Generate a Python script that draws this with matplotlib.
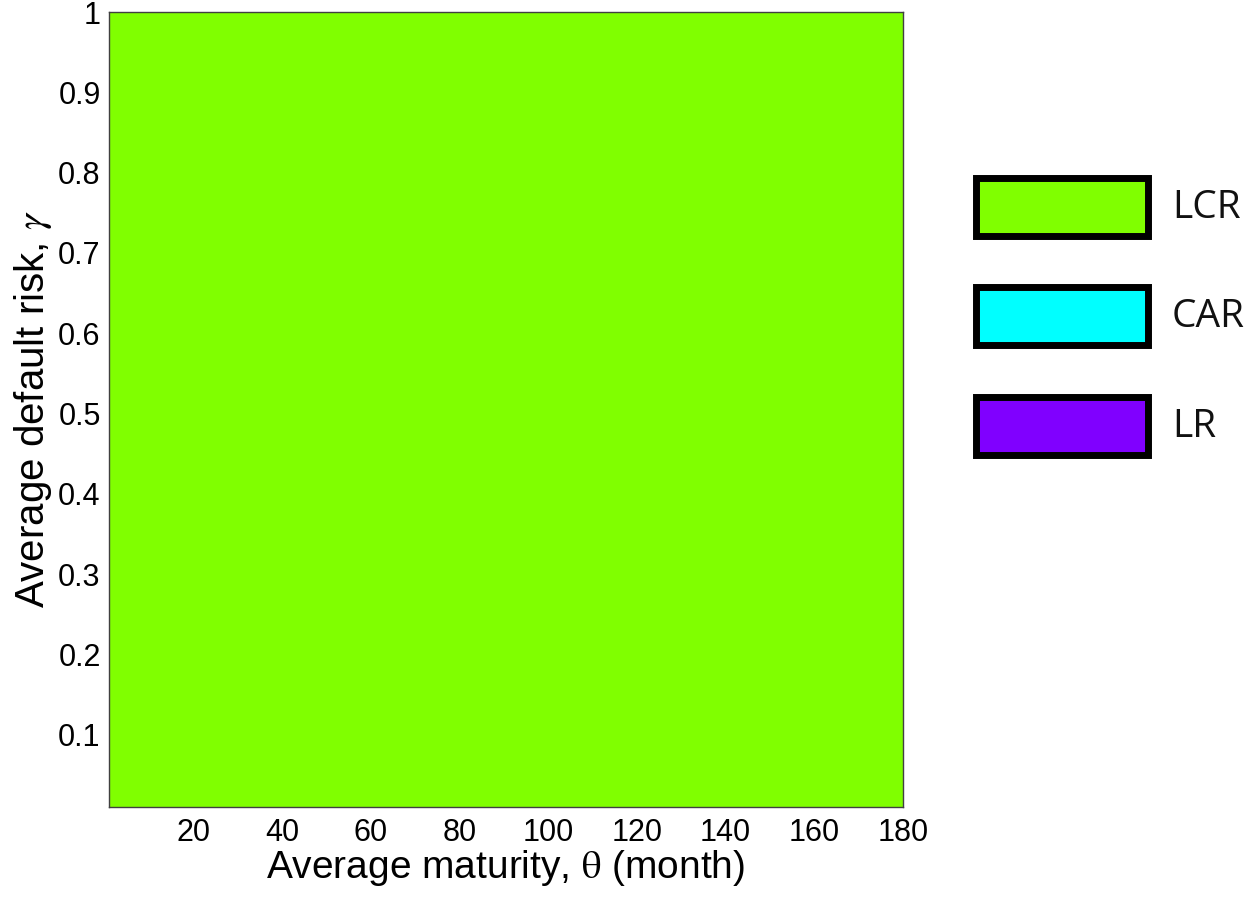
import numpy as np
import matplotlib
matplotlib.use("Agg")
import matplotlib.pyplot as plt
from matplotlib.colors import ListedColormap
from matplotlib.patches import Rectangle

# regime map: which constraint binds on the (theta, gamma) grid
theta = np.arange(1, 181)                      # average maturity, months
gamma = np.round(np.arange(1, 101) / 100, 2)   # average default risk
regime_names = ["LCR", "CAR", "LR"]
regime_colors = ["#80ff00", "#00ffff", "#8000ff"]
# 0 = LCR binds everywhere on the grid
binding = np.zeros((len(gamma), len(theta)), dtype=int)

plt.rcParams["font.family"] = ["Liberation Sans", "DejaVu Sans"]
plt.rcParams["mathtext.fontset"] = "stix"

fig = plt.figure(figsize=(12.55, 8.97), dpi=100)
W, H = 1255, 897
ax = fig.add_axes([109 / W, 1 - 807 / H, (903 - 109) / W, (807 - 12) / H])

cmap = ListedColormap(regime_colors)
ax.pcolormesh(theta, gamma, binding, cmap=cmap, vmin=-0.5, vmax=2.5,
              shading="nearest")
ax.set_xlim(theta[0], theta[-1])
ax.set_ylim(gamma[0], gamma[-1])

ax.set_xticks([20, 40, 60, 80, 100, 120, 140, 160, 180])
ax.set_yticks([0.1, 0.2, 0.3, 0.4, 0.5, 0.6, 0.7, 0.8, 0.9, 1])
ax.set_yticklabels(["0.1", "0.2", "0.3", "0.4", "0.5", "0.6", "0.7",
                    "0.8", "0.9", "1"])
ax.tick_params(length=0, labelsize=22)
ax.tick_params(axis="x", pad=8)
ax.tick_params(axis="y", pad=6)
for sp in ax.spines.values():
    sp.set_color("#404040")
    sp.set_linewidth(1.0)

ax.set_xlabel(r"Average maturity, $\mathrm{\theta}$ (month)", fontsize=28,
              labelpad=0)
ax.set_ylabel(r"Average default risk, $\gamma$", fontsize=29, labelpad=3)

# legend drawn as outlined boxes to the right of the map
lax = fig.add_axes([0, 0, 1, 1])
lax.set_xlim(0, W)
lax.set_ylim(H, 0)
lax.axis("off")
box_x, box_w, box_h = 976, 172, 58
box_tops = [178, 287, 397]
for name, color, top in zip(regime_names, regime_colors, box_tops):
    lax.add_patch(Rectangle((box_x, top), box_w, box_h, facecolor=color,
                            edgecolor="black", linewidth=5))
    lax.text(1172, top + box_h / 2 + 1, name, fontsize=28,
             family=["Open Sans", "DejaVu Sans"], va="center", ha="left",
             color="#111111")

fig.savefig("out.png", dpi=100)
